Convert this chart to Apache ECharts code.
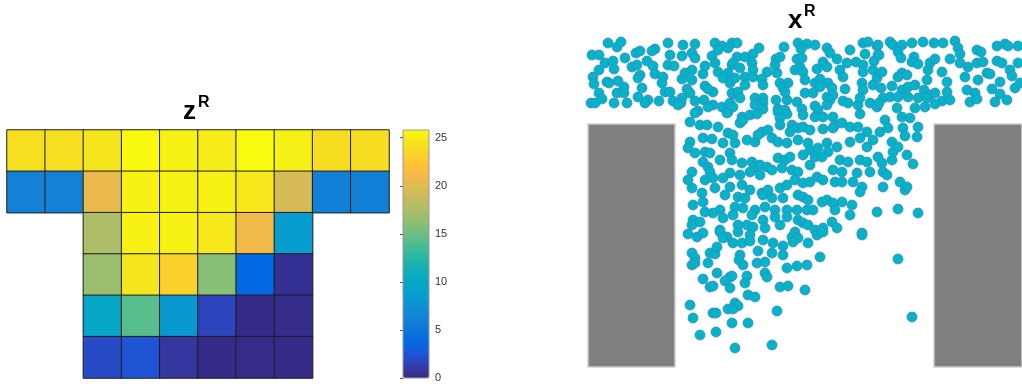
<!DOCTYPE html>
<html>
<head>
<meta charset="utf-8">
<style>
  html, body { margin: 0; padding: 0; background: #fff; }
  #chart { width: 1022px; height: 387px; }
</style>
<script src="https://cdn.jsdelivr.net/npm/echarts@6.0.0/dist/echarts.min.js"></script>
</head>
<body>
<div id="chart"></div>
<script>
// ---- z^R : cell values of the T-shaped domain (null = outside the domain) ----
const zColumns = ['1', '2', '3', '4', '5', '6', '7', '8', '9', '10'];
const zRowNames = ['1', '2', '3', '4', '5', '6'];
const zRow1 = [24.2, 24.2, 24.6, 25.7, 25.3, 25.0, 25.8, 25.2, 24.1, 24.1];
const zRow2 = [6.1, 6.1, 20.5, 25.3, 25.3, 25.3, 24.8, 19.5, 6.0, 6.0];
const zRow3 = [null, null, 17.6, 25.3, 25.3, 24.8, 20.9, 8.6, null, null];
const zRow4 = [null, null, 16.8, 24.6, 23.2, 16.0, 3.7, 0.4, null, null];
const zRow5 = [null, null, 9.8, 14.3, 8.2, 1.7, 0.0, 0.1, null, null];
const zRow6 = [null, null, 2.0, 2.5, 0.8, 0.0, 0.1, 0.0, null, null];
const zMax = 25.8;

// parula colour map, evenly spaced stops
const parula = ['#352a87', '#353dad', '#2053d4', '#0268e1', '#0d75dc', '#1481d6',
  '#108ed2', '#079dcf', '#06a7c6', '#0faeb9', '#25b5a9', '#42bb98', '#65be86',
  '#87bf77', '#a5be6b', '#c0bc60', '#d9ba56', '#f1b94a', '#fec337', '#f9d32a',
  '#f5e41d', '#f9fb0e'];

// ---- x^R : particle positions (mm, origin at the bottom-left corner of the outlet) ----
const bandLeft = [
  [-67,324],[-58,320],[-54,325],[-7,324],[8,322],[20,323],[40,324],[47,321],[57,324],
  [-83,312],[-76,312],[-50,309],[-39,314],[-35,316],[-20,318],[-23,316],[-5,312],[7,311],[17,314],[20,309],[37,311],[43,317],[53,319],
  [-70,304],[-62,306],[-43,300],[-38,302],[-28,306],[-22,301],[-7,302],[-1,301],[30,301],[40,304],[57,302],
  [-76,297],[-61,298],[-35,292],[-20,293],[-12,290],[10,294],[17,297],[28,293],[43,295],[53,294],[48,289],
  [-82,290],[-68,285],[-57,286],[-51,280],[-37,289],[-13,284],[7,288],[17,287],[30,281],[38,275],[55,284],
  [-81,283],[-66,284],[-33,279],[-10,275],[-5,275],[12,278],[15,274],[33,278],
  [-76,274],[-58,274],[-51,274],[-37,270],[-27,267],[-16,266],[-2,266],[7,269],[6,264],[20,266],[29,267],[38,262],[47,260],[55,264],[58,273],
  [-84,264],[-80,264],[-73,268],[-61,264],[-48,264],[-30,264],[3,262],[23,256],[33,260],[53,255]
];
const bandMiddle = [
  [62,324],[84,319],[109,320],[123,324],[132,323],[140,322],[126,318],[152,319],[155,314],[175,317],[188,324],[193,325],[202,321],[190,313],[203,312],
  [62,310],[70,310],[78,313],[77,304],[58,304],[101,308],[105,310],[122,308],[127,309],[148,305],[162,308],[172,304],[181,305],[188,302],[199,306],
  [65,299],[78,297],[92,295],[100,302],[102,294],[120,297],[125,300],[128,295],[142,298],[152,300],[165,297],[168,290],[188,295],[198,297],
  [60,289],[70,290],[78,290],[87,288],[88,282],[105,284],[113,284],[108,279],[130,287],[140,284],[145,288],[153,284],[145,280],[157,279],[170,278],[187,284],[188,277],[202,289],[198,282],
  [57,274],[63,275],[70,282],[65,269],[80,269],[88,269],[88,264],[101,267],[112,267],[110,275],[122,265],[130,274],[138,274],[152,270],[158,272],[155,267],[168,266],[173,264],[183,262],[185,269],[195,264],[202,260],
  [58,260],[80,262],[88,258],[103,258],[110,257],[127,258],[140,261],[143,257],[152,262]
];
const bandRight = [
  [203,322],[215,325],[218,322],[227,322],[237,324],[248,325],[259,324],[268,324],[280,326],[283,319],[302,317],[306,315],[322,321],[330,323],[333,321],[343,321],
  [204,312],[223,315],[226,309],[239,310],[237,305],[243,303],[255,304],[260,308],[275,308],[285,313],[285,304],[293,300],[302,304],[308,305],[322,306],[327,304],[343,304],
  [207,295],[227,294],[232,292],[223,290],[253,297],[267,295],[252,287],[272,285],[290,290],[303,287],[312,294],[315,293],[325,285],[335,297],[337,291],
  [206,279],[217,281],[227,277],[233,280],[240,282],[249,277],[255,272],[260,274],[272,275],[292,277],[300,274],[317,278],[325,273],[340,279],[345,284],
  [208,269],[215,270],[223,270],[233,270],[243,269],[252,269],[267,266],[275,267],[295,265],[302,268],[320,265],[332,267],
  [204,264],[222,259],[240,259],[250,260],[260,263]
];
const outletLeft = [
  [20,254],[52,254],[67,250],[75,252],[82,253],[103,255],[112,253],[105,249],
  [15,245],[25,242],[32,242],[43,240],[53,234],[65,244],[68,247],[87,235],[93,237],[105,242],[117,242],[123,239],[115,235],
  [15,225],[13,219],[28,229],[37,228],[48,224],[58,232],[60,224],[72,227],[80,225],[83,232],[97,229],[103,225],[112,224],[123,227],
  [20,214],[30,215],[35,214],[55,214],[57,207],[67,204],[77,205],[80,200],[85,202],[92,200],[103,209],[110,207],[115,210],
  [17,195],[28,205],[33,200],[35,195],[45,207],[55,194],[65,192],[75,195],[85,192],[97,197],[107,199],[117,197],[123,195],[120,187],
  [13,187],[17,179],[30,187],[38,189],[40,179],[48,189],[55,180],[67,182],[75,177],[87,174],[93,177],[105,179],[112,182],
  [27,174],[50,172],[63,170],[70,169],[88,172],[97,169],[108,169],[123,172],
  [18,162],[28,165],[45,157],[38,154],[60,160],[68,159],[80,157],[90,160],[100,157],[112,157],[122,157],
  [18,147],[30,155],[48,149],[58,152],[77,152],[88,147],[100,150],[112,150],[123,147],
  [17,142],[25,145],[45,137],[63,142],[72,142],[78,140],[90,139],[105,142],[120,135],[128,144]
];
const outletRight = [
  [128,252],[140,250],[148,250],[158,250],[160,242],[167,244],[185,253],[210,247],[227,250],[235,249],[243,240],
  [128,240],[135,237],[148,238],[158,239],[175,240],[183,240],[192,235],[205,235],[213,239],[217,225],[228,239],[230,231],[242,230],
  [133,224],[135,217],[143,219],[152,224],[153,215],[162,220],[175,225],[185,229],[192,220],[198,227],[218,215],[223,220],[232,212],
  [128,212],[140,210],[147,210],[165,207],[173,205],[185,207],[192,205],[203,210],[207,204],[217,207],[238,203],
  [135,202],[158,197],[167,195],[182,194],[195,195],[208,195],[212,192],
  [128,184],[135,185],[142,190],[148,187],[160,185],[167,185],[178,185],[187,180],[208,180],[225,185],[230,177],[232,180],
  [128,170],[133,167],[147,165],[152,167],[158,164],[167,165],[177,162],[185,175],
  [132,157],[138,157],[160,157],[175,152],[202,155],[223,158],[243,154],
  [133,142],[140,137],[148,139],[157,145],[162,139],[187,134]
];
const outletLower = [
  [13,133],[22,130],[28,134],[45,135],[52,130],[63,135],[75,132],[117,130],[123,129],[142,132],[148,135],[187,132],
  [48,129],[58,124],[67,124],[75,126],[88,127],[98,124],[108,121],[118,125],[133,124],
  [17,114],[20,109],[35,114],[40,113],[42,120],[65,112],[64,107],[83,116],[97,114],[108,112],[145,110],[223,108],
  [17,102],[20,104],[33,104],[68,102],[82,104],[90,105],[112,99],[122,101],[132,102],
  [42,94],[55,90],[57,91],[72,91],[90,94],[92,90],[28,88],[50,86],[70,84],
  [35,80],[38,81],[55,79],[105,80],[113,81],[130,77],
  [73,72],[80,70],
  [15,62],[60,64],[63,61],[53,58],[58,58],[38,54],[41,54],[102,56],
  [18,49],[57,44],[73,44],[237,50],
  [25,32],[41,35],[60,19],[97,22]
];
// hopper walls: [xFrom, xTo, yFrom, yTo]
const walls = [[-87, 0, 0, 243], [259, 347, 0, 243]];

// heatmap triples built from the rows
const zRows = [zRow1, zRow2, zRow3, zRow4, zRow5, zRow6];
const heatData = [];
zRows.forEach((row, r) => row.forEach((v, c) => { if (v !== null) heatData.push([c, r, v]); }));
const particles = [].concat(bandLeft, bandMiddle, bandRight, outletLeft, outletRight, outletLower);

const font = 'Liberation Sans, Arial, sans-serif';
const chart = echarts.init(document.getElementById('chart'), null, { renderer: 'canvas' });
chart.setOption({
  animation: false,
  backgroundColor: '#ffffff',
  title: [
    { text: 'z', left: 183, top: 99, padding: 0, textStyle: { fontSize: 26, fontWeight: 'bold', color: '#000', fontFamily: font } },
    { text: 'R', left: 198, top: 95, padding: 0, textStyle: { fontSize: 16, fontWeight: 'bold', color: '#000', fontFamily: font } },
    { text: 'x', left: 788, top: 8, padding: 0, textStyle: { fontSize: 26, fontWeight: 'bold', color: '#000', fontFamily: font } },
    { text: 'R', left: 804, top: 4, padding: 0, textStyle: { fontSize: 16, fontWeight: 'bold', color: '#000', fontFamily: font } }
  ],
  grid: [
    { left: 7, top: 130, width: 382, height: 248 },
    { left: 588, top: 28, width: 434, height: 339 },
    { left: 403, top: 130, width: 26, height: 248, show: true, borderColor: '#9a9a9a', borderWidth: 1, backgroundColor: 'transparent', z: 5 }
  ],
  xAxis: [
    { type: 'category', gridIndex: 0, data: zColumns, show: false },
    { type: 'value', gridIndex: 1, min: -87, max: 347, show: false },
    { type: 'value', gridIndex: 2, min: 0, max: 1, show: false }
  ],
  yAxis: [
    { type: 'category', gridIndex: 0, data: zRowNames, inverse: true, show: false },
    { type: 'value', gridIndex: 1, min: 0, max: 339, show: false },
    {
      type: 'value', gridIndex: 2, min: 0, max: zMax, interval: 5, position: 'right', z: 6,
      axisLine: { show: false },
      axisTick: { show: true, inside: true, length: 3, lineStyle: { color: '#555' } },
      splitLine: { show: false },
      axisLabel: { color: '#333', fontSize: 11, margin: 6, fontFamily: font, showMaxLabel: false }
    }
  ],
  visualMap: {
    type: 'continuous', seriesIndex: 0, min: 0, max: zMax,
    left: 403, top: 130, itemWidth: 26, itemHeight: 248, padding: 0,
    calculable: false, text: null, inRange: { color: parula }, hoverLink: false
  },
  series: [
    {
      type: 'heatmap', xAxisIndex: 0, yAxisIndex: 0, data: heatData,
      itemStyle: { borderColor: '#1c1c1c', borderWidth: 1 },
      emphasis: { disabled: true }
    },
    {
      type: 'custom', xAxisIndex: 1, yAxisIndex: 1, data: walls, z: 1,
      renderItem: function (params, api) {
        const p0 = api.coord([api.value(0), api.value(3)]);
        const p1 = api.coord([api.value(1), api.value(2)]);
        return {
          type: 'rect',
          shape: { x: p0[0], y: p0[1], width: p1[0] - p0[0], height: p1[1] - p0[1] },
          style: { fill: '#808080', stroke: '#cdcdcd', lineWidth: 1.5 }
        };
      }
    },
    {
      type: 'scatter', xAxisIndex: 1, yAxisIndex: 1, data: particles, z: 3,
      symbol: 'circle', symbolSize: 10, clip: false,
      itemStyle: { color: '#02b4c4', borderColor: '#3a86cf', borderWidth: 0.8, opacity: 1 },
      emphasis: { disabled: true }
    }
  ]
});
</script>
</body>
</html>
